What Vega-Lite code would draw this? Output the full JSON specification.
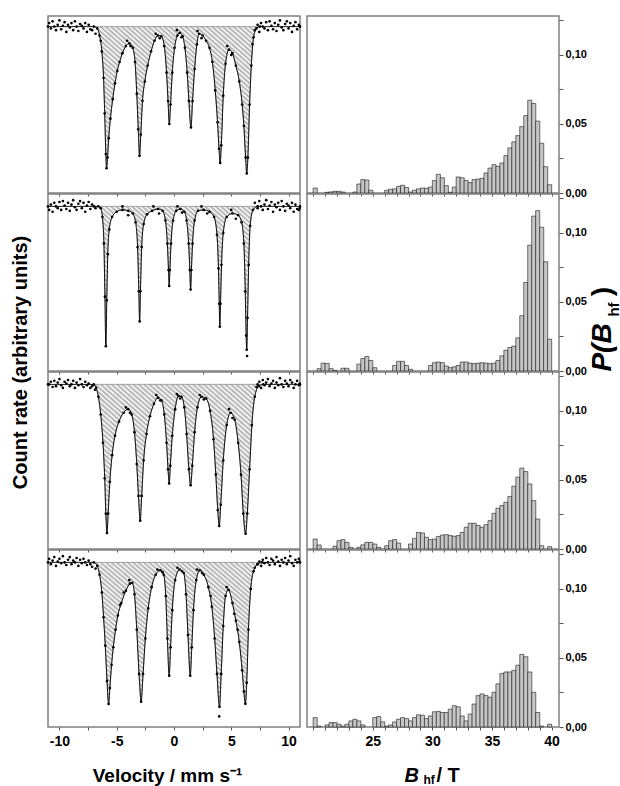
{
"$schema":"https://vega.github.io/schema/vega-lite/v6.json",
"padding":{"left":9,"top":15,"right":0,"bottom":0},
"background":"white",
"config":{
 "view":{"stroke":"#808080","strokeWidth":1.5},
 "font":"Liberation Sans",
 "axis":{"labelFont":"Liberation Sans","labelFontWeight":"bold","labelColor":"#000","titleFont":"Liberation Sans","titleFontWeight":"bold","titleColor":"#000","grid":false,"domain":false,"tickColor":"#555","tickWidth":1},
 "area":{"fill":{"gradient":"linear","x1":0,"y1":1,"x2":1,"y2":0,"stops":[
{"offset":0,"color":"#fff"},{"offset":0.008,"color":"#aaa"},{"offset":0.016,"color":"#fff"},{"offset":0.024,"color":"#aaa"},{"offset":0.032,"color":"#fff"},{"offset":0.04,"color":"#aaa"},{"offset":0.048,"color":"#fff"},{"offset":0.056,"color":"#aaa"},{"offset":0.064,"color":"#fff"},{"offset":0.072,"color":"#aaa"},{"offset":0.08,"color":"#fff"},{"offset":0.088,"color":"#aaa"},{"offset":0.096,"color":"#fff"},{"offset":0.104,"color":"#aaa"},{"offset":0.112,"color":"#fff"},{"offset":0.12,"color":"#aaa"},{"offset":0.128,"color":"#fff"},{"offset":0.136,"color":"#aaa"},{"offset":0.144,"color":"#fff"},{"offset":0.152,"color":"#aaa"},{"offset":0.16,"color":"#fff"},{"offset":0.168,"color":"#aaa"},{"offset":0.176,"color":"#fff"},{"offset":0.184,"color":"#aaa"},{"offset":0.192,"color":"#fff"},{"offset":0.2,"color":"#aaa"},{"offset":0.208,"color":"#fff"},{"offset":0.216,"color":"#aaa"},{"offset":0.224,"color":"#fff"},{"offset":0.232,"color":"#aaa"},{"offset":0.24,"color":"#fff"},{"offset":0.248,"color":"#aaa"},{"offset":0.256,"color":"#fff"},{"offset":0.264,"color":"#aaa"},{"offset":0.272,"color":"#fff"},{"offset":0.28,"color":"#aaa"},{"offset":0.288,"color":"#fff"},{"offset":0.296,"color":"#aaa"},{"offset":0.304,"color":"#fff"},{"offset":0.312,"color":"#aaa"},{"offset":0.32,"color":"#fff"},{"offset":0.328,"color":"#aaa"},{"offset":0.336,"color":"#fff"},{"offset":0.344,"color":"#aaa"},{"offset":0.352,"color":"#fff"},{"offset":0.36,"color":"#aaa"},{"offset":0.368,"color":"#fff"},{"offset":0.376,"color":"#aaa"},{"offset":0.384,"color":"#fff"},{"offset":0.392,"color":"#aaa"},{"offset":0.4,"color":"#fff"},{"offset":0.408,"color":"#aaa"},{"offset":0.416,"color":"#fff"},{"offset":0.424,"color":"#aaa"},{"offset":0.432,"color":"#fff"},{"offset":0.44,"color":"#aaa"},{"offset":0.448,"color":"#fff"},{"offset":0.456,"color":"#aaa"},{"offset":0.464,"color":"#fff"},{"offset":0.472,"color":"#aaa"},{"offset":0.48,"color":"#fff"},{"offset":0.488,"color":"#aaa"},{"offset":0.496,"color":"#fff"},{"offset":0.504,"color":"#aaa"},{"offset":0.512,"color":"#fff"},{"offset":0.52,"color":"#aaa"},{"offset":0.528,"color":"#fff"},{"offset":0.536,"color":"#aaa"},{"offset":0.544,"color":"#fff"},{"offset":0.552,"color":"#aaa"},{"offset":0.56,"color":"#fff"},{"offset":0.568,"color":"#aaa"},{"offset":0.576,"color":"#fff"},{"offset":0.584,"color":"#aaa"},{"offset":0.592,"color":"#fff"},{"offset":0.6,"color":"#aaa"},{"offset":0.608,"color":"#fff"},{"offset":0.616,"color":"#aaa"},{"offset":0.624,"color":"#fff"},{"offset":0.632,"color":"#aaa"},{"offset":0.64,"color":"#fff"},{"offset":0.648,"color":"#aaa"},{"offset":0.656,"color":"#fff"},{"offset":0.664,"color":"#aaa"},{"offset":0.672,"color":"#fff"},{"offset":0.68,"color":"#aaa"},{"offset":0.688,"color":"#fff"},{"offset":0.696,"color":"#aaa"},{"offset":0.704,"color":"#fff"},{"offset":0.712,"color":"#aaa"},{"offset":0.72,"color":"#fff"},{"offset":0.728,"color":"#aaa"},{"offset":0.736,"color":"#fff"},{"offset":0.744,"color":"#aaa"},{"offset":0.752,"color":"#fff"},{"offset":0.76,"color":"#aaa"},{"offset":0.768,"color":"#fff"},{"offset":0.776,"color":"#aaa"},{"offset":0.784,"color":"#fff"},{"offset":0.792,"color":"#aaa"},{"offset":0.8,"color":"#fff"},{"offset":0.808,"color":"#aaa"},{"offset":0.816,"color":"#fff"},{"offset":0.824,"color":"#aaa"},{"offset":0.832,"color":"#fff"},{"offset":0.84,"color":"#aaa"},{"offset":0.848,"color":"#fff"},{"offset":0.856,"color":"#aaa"},{"offset":0.864,"color":"#fff"},{"offset":0.872,"color":"#aaa"},{"offset":0.88,"color":"#fff"},{"offset":0.888,"color":"#aaa"},{"offset":0.896,"color":"#fff"},{"offset":0.904,"color":"#aaa"},{"offset":0.912,"color":"#fff"},{"offset":0.92,"color":"#aaa"},{"offset":0.928,"color":"#fff"},{"offset":0.936,"color":"#aaa"},{"offset":0.944,"color":"#fff"},{"offset":0.952,"color":"#aaa"},{"offset":0.96,"color":"#fff"},{"offset":0.968,"color":"#aaa"},{"offset":0.976,"color":"#fff"},{"offset":0.984,"color":"#aaa"},{"offset":0.992,"color":"#fff"},{"offset":1,"color":"#aaa"}]}}
},
"datasets":{
"fit":[
{"s":"G","v":-11,"f":0.94},{"s":"G","v":-7,"f":0.94},{"s":"G","v":-6.7,"f":0.93},{"s":"G","v":-6.5,"f":0.89},{"s":"G","v":-6.3,"f":0.8},{"s":"G","v":-6.15,"f":0.65},{"s":"G","v":-6.05,"f":0.45},{"s":"G","v":-5.95,"f":0.22},{"s":"G","v":-5.89,"f":0.14},{"s":"G","v":-5.8,"f":0.2},{"s":"G","v":-5.7,"f":0.31},{"s":"G","v":-5.55,"f":0.42},{"s":"G","v":-5.35,"f":0.53},{"s":"G","v":-5.15,"f":0.62},{"s":"G","v":-4.95,"f":0.69},{"s":"G","v":-4.75,"f":0.74},{"s":"G","v":-4.5,"f":0.79},{"s":"G","v":-4.2,"f":0.83},{"s":"G","v":-3.9,"f":0.845},{"s":"G","v":-3.6,"f":0.82},{"s":"G","v":-3.4,"f":0.74},{"s":"G","v":-3.25,"f":0.56},{"s":"G","v":-3.12,"f":0.36},{"s":"G","v":-3.01,"f":0.21},{"s":"G","v":-2.9,"f":0.33},{"s":"G","v":-2.75,"f":0.52},{"s":"G","v":-2.55,"f":0.63},{"s":"G","v":-2.3,"f":0.72},{"s":"G","v":-2.0,"f":0.8},{"s":"G","v":-1.7,"f":0.86},{"s":"G","v":-1.4,"f":0.89},{"s":"G","v":-1.1,"f":0.885},{"s":"G","v":-0.85,"f":0.83},{"s":"G","v":-0.65,"f":0.68},{"s":"G","v":-0.52,"f":0.52},{"s":"G","v":-0.41,"f":0.39},{"s":"G","v":-0.3,"f":0.5},{"s":"G","v":-0.15,"f":0.68},{"s":"G","v":0.05,"f":0.82},{"s":"G","v":0.3,"f":0.89},{"s":"G","v":0.5,"f":0.905},{"s":"G","v":0.75,"f":0.885},{"s":"G","v":0.95,"f":0.82},{"s":"G","v":1.15,"f":0.68},{"s":"G","v":1.3,"f":0.52},{"s":"G","v":1.48,"f":0.37},{"s":"G","v":1.62,"f":0.52},{"s":"G","v":1.8,"f":0.7},{"s":"G","v":2.0,"f":0.84},{"s":"G","v":2.2,"f":0.9},{"s":"G","v":2.5,"f":0.89},{"s":"G","v":2.8,"f":0.86},{"s":"G","v":3.1,"f":0.82},{"s":"G","v":3.35,"f":0.74},{"s":"G","v":3.6,"f":0.58},{"s":"G","v":3.8,"f":0.4},{"s":"G","v":3.93,"f":0.25},{"s":"G","v":4.03,"f":0.17},{"s":"G","v":4.13,"f":0.27},{"s":"G","v":4.3,"f":0.55},{"s":"G","v":4.5,"f":0.73},{"s":"G","v":4.8,"f":0.81},{"s":"G","v":5.1,"f":0.79},{"s":"G","v":5.4,"f":0.72},{"s":"G","v":5.7,"f":0.63},{"s":"G","v":5.95,"f":0.5},{"s":"G","v":6.1,"f":0.38},{"s":"G","v":6.25,"f":0.2},{"s":"G","v":6.35,"f":0.11},{"s":"G","v":6.45,"f":0.2},{"s":"G","v":6.6,"f":0.5},{"s":"G","v":6.75,"f":0.72},{"s":"G","v":6.95,"f":0.88},{"s":"G","v":7.2,"f":0.93},{"s":"G","v":7.5,"f":0.94},{"s":"G","v":11,"f":0.94},
{"s":"G1","v":-11,"f":0.93},{"s":"G1","v":-7,"f":0.93},{"s":"G1","v":-6.6,"f":0.93},{"s":"G1","v":-6.4,"f":0.92},{"s":"G1","v":-6.25,"f":0.87},{"s":"G1","v":-6.12,"f":0.72},{"s":"G1","v":-6.03,"f":0.42},{"s":"G1","v":-5.95,"f":0.14},{"s":"G1","v":-5.87,"f":0.4},{"s":"G1","v":-5.78,"f":0.66},{"s":"G1","v":-5.65,"f":0.8},{"s":"G1","v":-5.4,"f":0.87},{"s":"G1","v":-5.0,"f":0.9},{"s":"G1","v":-4.5,"f":0.91},{"s":"G1","v":-4.0,"f":0.905},{"s":"G1","v":-3.6,"f":0.89},{"s":"G1","v":-3.35,"f":0.84},{"s":"G1","v":-3.18,"f":0.7},{"s":"G1","v":-3.07,"f":0.45},{"s":"G1","v":-3.0,"f":0.28},{"s":"G1","v":-2.93,"f":0.45},{"s":"G1","v":-2.82,"f":0.7},{"s":"G1","v":-2.65,"f":0.83},{"s":"G1","v":-2.35,"f":0.885},{"s":"G1","v":-1.9,"f":0.905},{"s":"G1","v":-1.4,"f":0.915},{"s":"G1","v":-1.0,"f":0.905},{"s":"G1","v":-0.75,"f":0.85},{"s":"G1","v":-0.58,"f":0.72},{"s":"G1","v":-0.48,"f":0.57},{"s":"G1","v":-0.42,"f":0.48},{"s":"G1","v":-0.36,"f":0.57},{"s":"G1","v":-0.26,"f":0.72},{"s":"G1","v":-0.08,"f":0.85},{"s":"G1","v":0.2,"f":0.905},{"s":"G1","v":0.55,"f":0.915},{"s":"G1","v":0.9,"f":0.9},{"s":"G1","v":1.1,"f":0.85},{"s":"G1","v":1.28,"f":0.72},{"s":"G1","v":1.38,"f":0.57},{"s":"G1","v":1.45,"f":0.46},{"s":"G1","v":1.52,"f":0.57},{"s":"G1","v":1.62,"f":0.72},{"s":"G1","v":1.8,"f":0.85},{"s":"G1","v":2.1,"f":0.905},{"s":"G1","v":2.6,"f":0.91},{"s":"G1","v":3.1,"f":0.9},{"s":"G1","v":3.5,"f":0.87},{"s":"G1","v":3.75,"f":0.77},{"s":"G1","v":3.88,"f":0.58},{"s":"G1","v":3.95,"f":0.38},{"s":"G1","v":4.0,"f":0.25},{"s":"G1","v":4.06,"f":0.38},{"s":"G1","v":4.15,"f":0.6},{"s":"G1","v":4.3,"f":0.78},{"s":"G1","v":4.6,"f":0.87},{"s":"G1","v":5.1,"f":0.89},{"s":"G1","v":5.6,"f":0.88},{"s":"G1","v":5.9,"f":0.84},{"s":"G1","v":6.1,"f":0.72},{"s":"G1","v":6.22,"f":0.45},{"s":"G1","v":6.3,"f":0.2},{"s":"G1","v":6.35,"f":0.12},{"s":"G1","v":6.42,"f":0.3},{"s":"G1","v":6.52,"f":0.6},{"s":"G1","v":6.65,"f":0.82},{"s":"G1","v":6.9,"f":0.91},{"s":"G1","v":7.3,"f":0.93},{"s":"G1","v":11,"f":0.93},
{"s":"R4","v":-11,"f":0.93},{"s":"R4","v":-7.0,"f":0.93},{"s":"R4","v":-6.8,"f":0.91},{"s":"R4","v":-6.6,"f":0.86},{"s":"R4","v":-6.4,"f":0.76},{"s":"R4","v":-6.2,"f":0.6},{"s":"R4","v":-6.05,"f":0.4},{"s":"R4","v":-5.95,"f":0.2},{"s":"R4","v":-5.85,"f":0.09},{"s":"R4","v":-5.75,"f":0.2},{"s":"R4","v":-5.6,"f":0.38},{"s":"R4","v":-5.4,"f":0.53},{"s":"R4","v":-5.15,"f":0.64},{"s":"R4","v":-4.8,"f":0.72},{"s":"R4","v":-4.4,"f":0.77},{"s":"R4","v":-4.0,"f":0.79},{"s":"R4","v":-3.7,"f":0.76},{"s":"R4","v":-3.45,"f":0.66},{"s":"R4","v":-3.25,"f":0.48},{"s":"R4","v":-3.1,"f":0.3},{"s":"R4","v":-2.95,"f":0.16},{"s":"R4","v":-2.82,"f":0.3},{"s":"R4","v":-2.65,"f":0.5},{"s":"R4","v":-2.4,"f":0.65},{"s":"R4","v":-2.1,"f":0.75},{"s":"R4","v":-1.75,"f":0.82},{"s":"R4","v":-1.4,"f":0.855},{"s":"R4","v":-1.1,"f":0.84},{"s":"R4","v":-0.85,"f":0.76},{"s":"R4","v":-0.65,"f":0.6},{"s":"R4","v":-0.52,"f":0.45},{"s":"R4","v":-0.42,"f":0.37},{"s":"R4","v":-0.32,"f":0.47},{"s":"R4","v":-0.15,"f":0.64},{"s":"R4","v":0.1,"f":0.79},{"s":"R4","v":0.4,"f":0.865},{"s":"R4","v":0.65,"f":0.86},{"s":"R4","v":0.9,"f":0.8},{"s":"R4","v":1.1,"f":0.65},{"s":"R4","v":1.3,"f":0.45},{"s":"R4","v":1.45,"f":0.36},{"s":"R4","v":1.6,"f":0.47},{"s":"R4","v":1.8,"f":0.66},{"s":"R4","v":2.05,"f":0.8},{"s":"R4","v":2.4,"f":0.86},{"s":"R4","v":2.8,"f":0.85},{"s":"R4","v":3.15,"f":0.78},{"s":"R4","v":3.45,"f":0.62},{"s":"R4","v":3.65,"f":0.42},{"s":"R4","v":3.82,"f":0.22},{"s":"R4","v":3.95,"f":0.13},{"s":"R4","v":4.08,"f":0.25},{"s":"R4","v":4.3,"f":0.5},{"s":"R4","v":4.6,"f":0.7},{"s":"R4","v":4.95,"f":0.77},{"s":"R4","v":5.3,"f":0.73},{"s":"R4","v":5.6,"f":0.6},{"s":"R4","v":5.85,"f":0.42},{"s":"R4","v":6.05,"f":0.2},{"s":"R4","v":6.25,"f":0.086},{"s":"R4","v":6.4,"f":0.2},{"s":"R4","v":6.6,"f":0.45},{"s":"R4","v":6.8,"f":0.7},{"s":"R4","v":7.05,"f":0.86},{"s":"R4","v":7.4,"f":0.92},{"s":"R4","v":7.8,"f":0.93},{"s":"R4","v":11,"f":0.93},
{"s":"R6","v":-11,"f":0.93},{"s":"R6","v":-7.0,"f":0.93},{"s":"R6","v":-6.7,"f":0.91},{"s":"R6","v":-6.5,"f":0.86},{"s":"R6","v":-6.3,"f":0.76},{"s":"R6","v":-6.15,"f":0.62},{"s":"R6","v":-6.0,"f":0.46},{"s":"R6","v":-5.85,"f":0.26},{"s":"R6","v":-5.71,"f":0.13},{"s":"R6","v":-5.6,"f":0.22},{"s":"R6","v":-5.45,"f":0.35},{"s":"R6","v":-5.3,"f":0.45},{"s":"R6","v":-5.1,"f":0.55},{"s":"R6","v":-4.9,"f":0.63},{"s":"R6","v":-4.6,"f":0.7},{"s":"R6","v":-4.2,"f":0.77},{"s":"R6","v":-3.85,"f":0.81},{"s":"R6","v":-3.65,"f":0.815},{"s":"R6","v":-3.45,"f":0.75},{"s":"R6","v":-3.25,"f":0.55},{"s":"R6","v":-3.05,"f":0.3},{"s":"R6","v":-2.87,"f":0.143},{"s":"R6","v":-2.7,"f":0.3},{"s":"R6","v":-2.5,"f":0.5},{"s":"R6","v":-2.25,"f":0.67},{"s":"R6","v":-1.95,"f":0.79},{"s":"R6","v":-1.6,"f":0.86},{"s":"R6","v":-1.2,"f":0.885},{"s":"R6","v":-0.9,"f":0.86},{"s":"R6","v":-0.72,"f":0.74},{"s":"R6","v":-0.58,"f":0.5},{"s":"R6","v":-0.42,"f":0.29},{"s":"R6","v":-0.3,"f":0.45},{"s":"R6","v":-0.15,"f":0.66},{"s":"R6","v":0.1,"f":0.83},{"s":"R6","v":0.5,"f":0.89},{"s":"R6","v":0.85,"f":0.87},{"s":"R6","v":1.05,"f":0.75},{"s":"R6","v":1.22,"f":0.52},{"s":"R6","v":1.42,"f":0.29},{"s":"R6","v":1.55,"f":0.45},{"s":"R6","v":1.7,"f":0.66},{"s":"R6","v":1.95,"f":0.83},{"s":"R6","v":2.25,"f":0.885},{"s":"R6","v":2.6,"f":0.86},{"s":"R6","v":3.0,"f":0.79},{"s":"R6","v":3.3,"f":0.68},{"s":"R6","v":3.55,"f":0.5},{"s":"R6","v":3.75,"f":0.3},{"s":"R6","v":3.97,"f":0.114},{"s":"R6","v":4.12,"f":0.3},{"s":"R6","v":4.3,"f":0.57},{"s":"R6","v":4.5,"f":0.74},{"s":"R6","v":4.75,"f":0.775},{"s":"R6","v":5.1,"f":0.7},{"s":"R6","v":5.4,"f":0.6},{"s":"R6","v":5.7,"f":0.48},{"s":"R6","v":5.95,"f":0.32},{"s":"R6","v":6.1,"f":0.2},{"s":"R6","v":6.23,"f":0.131},{"s":"R6","v":6.35,"f":0.25},{"s":"R6","v":6.5,"f":0.55},{"s":"R6","v":6.7,"f":0.78},{"s":"R6","v":6.95,"f":0.88},{"s":"R6","v":7.3,"f":0.92},{"s":"R6","v":7.7,"f":0.93},{"s":"R6","v":11,"f":0.93}
],
"pts":[
{"s":"G","v":-10.9,"f":0.96},{"s":"G","v":-10.75,"f":0.93},{"s":"G","v":-10.6,"f":0.97},{"s":"G","v":-10.45,"f":0.94},{"s":"G","v":-10.3,"f":0.92},{"s":"G","v":-10.15,"f":0.95},{"s":"G","v":-10.0,"f":0.975},{"s":"G","v":-9.85,"f":0.925},{"s":"G","v":-9.7,"f":0.945},{"s":"G","v":-9.55,"f":0.965},{"s":"G","v":-9.4,"f":0.91},{"s":"G","v":-9.25,"f":0.95},{"s":"G","v":-9.1,"f":0.935},{"s":"G","v":-8.95,"f":0.96},{"s":"G","v":-8.8,"f":0.92},{"s":"G","v":-8.65,"f":0.97},{"s":"G","v":-8.5,"f":0.94},{"s":"G","v":-8.35,"f":0.915},{"s":"G","v":-8.2,"f":0.955},{"s":"G","v":-8.05,"f":0.945},{"s":"G","v":-7.9,"f":0.93},{"s":"G","v":-7.75,"f":0.96},{"s":"G","v":-7.6,"f":0.91},{"s":"G","v":-7.45,"f":0.95},{"s":"G","v":-7.3,"f":0.925},{"s":"G","v":-7.15,"f":0.92},{"s":"G","v":-6.85,"f":0.9},
{"s":"G","v":7.05,"f":0.92},{"s":"G","v":7.3,"f":0.95},{"s":"G","v":7.45,"f":0.91},{"s":"G","v":7.6,"f":0.96},{"s":"G","v":7.75,"f":0.94},{"s":"G","v":7.9,"f":0.93},{"s":"G","v":8.05,"f":0.965},{"s":"G","v":8.2,"f":0.92},{"s":"G","v":8.35,"f":0.97},{"s":"G","v":8.5,"f":0.945},{"s":"G","v":8.65,"f":0.925},{"s":"G","v":8.8,"f":0.96},{"s":"G","v":8.95,"f":0.915},{"s":"G","v":9.1,"f":0.95},{"s":"G","v":9.25,"f":0.975},{"s":"G","v":9.4,"f":0.935},{"s":"G","v":9.55,"f":0.92},{"s":"G","v":9.7,"f":0.955},{"s":"G","v":9.85,"f":0.97},{"s":"G","v":10.0,"f":0.93},{"s":"G","v":10.15,"f":0.96},{"s":"G","v":10.3,"f":0.91},{"s":"G","v":10.45,"f":0.945},{"s":"G","v":10.6,"f":0.965},{"s":"G","v":10.75,"f":0.925},{"s":"G","v":10.9,"f":0.95},{"s":"G","v":10.97,"f":0.94},
{"s":"G","v":-4.1,"f":0.86},{"s":"G","v":-3.8,"f":0.83},{"s":"G","v":-1.6,"f":0.9},{"s":"G","v":-1.25,"f":0.875},{"s":"G","v":0.25,"f":0.92},{"s":"G","v":0.65,"f":0.88},{"s":"G","v":2.05,"f":0.915},{"s":"G","v":2.4,"f":0.875},{"s":"G","v":4.65,"f":0.83},{"s":"G","v":5.0,"f":0.78},{"s":"G","v":-6.4,"f":0.86},{"s":"G","v":6.85,"f":0.84},
{"s":"G1","v":-10.9,"f":0.91},{"s":"G1","v":-10.75,"f":0.94},{"s":"G1","v":-10.6,"f":0.9},{"s":"G1","v":-10.45,"f":0.95},{"s":"G1","v":-10.3,"f":0.93},{"s":"G1","v":-10.15,"f":0.92},{"s":"G1","v":-10.0,"f":0.955},{"s":"G1","v":-9.85,"f":0.91},{"s":"G1","v":-9.7,"f":0.96},{"s":"G1","v":-9.55,"f":0.935},{"s":"G1","v":-9.4,"f":0.915},{"s":"G1","v":-9.25,"f":0.95},{"s":"G1","v":-9.1,"f":0.905},{"s":"G1","v":-8.95,"f":0.94},{"s":"G1","v":-8.8,"f":0.965},{"s":"G1","v":-8.65,"f":0.925},{"s":"G1","v":-8.5,"f":0.91},{"s":"G1","v":-8.35,"f":0.945},{"s":"G1","v":-8.2,"f":0.96},{"s":"G1","v":-8.05,"f":0.92},{"s":"G1","v":-7.9,"f":0.95},{"s":"G1","v":-7.75,"f":0.9},{"s":"G1","v":-7.6,"f":0.935},{"s":"G1","v":-7.45,"f":0.955},{"s":"G1","v":-7.3,"f":0.915},{"s":"G1","v":-7.15,"f":0.94},{"s":"G1","v":-6.85,"f":0.92},
{"s":"G1","v":7.05,"f":0.95},{"s":"G1","v":7.3,"f":0.92},{"s":"G1","v":7.45,"f":0.96},{"s":"G1","v":7.6,"f":0.93},{"s":"G1","v":7.75,"f":0.91},{"s":"G1","v":7.9,"f":0.94},{"s":"G1","v":8.05,"f":0.965},{"s":"G1","v":8.2,"f":0.915},{"s":"G1","v":8.35,"f":0.935},{"s":"G1","v":8.5,"f":0.955},{"s":"G1","v":8.65,"f":0.9},{"s":"G1","v":8.8,"f":0.94},{"s":"G1","v":8.95,"f":0.925},{"s":"G1","v":9.1,"f":0.95},{"s":"G1","v":9.25,"f":0.91},{"s":"G1","v":9.4,"f":0.96},{"s":"G1","v":9.55,"f":0.93},{"s":"G1","v":9.7,"f":0.905},{"s":"G1","v":9.85,"f":0.945},{"s":"G1","v":10.0,"f":0.935},{"s":"G1","v":10.15,"f":0.92},{"s":"G1","v":10.3,"f":0.95},{"s":"G1","v":10.45,"f":0.9},{"s":"G1","v":10.6,"f":0.94},{"s":"G1","v":10.75,"f":0.915},{"s":"G1","v":10.9,"f":0.91},{"s":"G1","v":10.97,"f":0.92},
{"s":"G1","v":-4.5,"f":0.93},{"s":"G1","v":-4.0,"f":0.88},{"s":"G1","v":-1.8,"f":0.93},{"s":"G1","v":-1.3,"f":0.89},{"s":"G1","v":0.3,"f":0.93},{"s":"G1","v":0.7,"f":0.895},{"s":"G1","v":2.4,"f":0.93},{"s":"G1","v":2.9,"f":0.89},{"s":"G1","v":5.0,"f":0.91},{"s":"G1","v":5.4,"f":0.86},{"s":"G1","v":6.38,"f":0.085},
{"s":"R4","v":-10.9,"f":0.93},{"s":"R4","v":-10.75,"f":0.945},{"s":"R4","v":-10.6,"f":0.915},{"s":"R4","v":-10.45,"f":0.95},{"s":"R4","v":-10.3,"f":0.92},{"s":"R4","v":-10.15,"f":0.94},{"s":"R4","v":-10.0,"f":0.96},{"s":"R4","v":-9.85,"f":0.925},{"s":"R4","v":-9.7,"f":0.91},{"s":"R4","v":-9.55,"f":0.945},{"s":"R4","v":-9.4,"f":0.935},{"s":"R4","v":-9.25,"f":0.955},{"s":"R4","v":-9.1,"f":0.92},{"s":"R4","v":-8.95,"f":0.93},{"s":"R4","v":-8.8,"f":0.95},{"s":"R4","v":-8.65,"f":0.91},{"s":"R4","v":-8.5,"f":0.94},{"s":"R4","v":-8.35,"f":0.925},{"s":"R4","v":-8.2,"f":0.96},{"s":"R4","v":-8.05,"f":0.93},{"s":"R4","v":-7.9,"f":0.915},{"s":"R4","v":-7.75,"f":0.945},{"s":"R4","v":-7.6,"f":0.925},{"s":"R4","v":-7.45,"f":0.935},{"s":"R4","v":-7.3,"f":0.91},{"s":"R4","v":-7.15,"f":0.92},{"s":"R4","v":-6.9,"f":0.9},
{"s":"R4","v":7.2,"f":0.915},{"s":"R4","v":7.3,"f":0.93},{"s":"R4","v":7.45,"f":0.945},{"s":"R4","v":7.6,"f":0.91},{"s":"R4","v":7.75,"f":0.955},{"s":"R4","v":7.9,"f":0.925},{"s":"R4","v":8.05,"f":0.94},{"s":"R4","v":8.2,"f":0.96},{"s":"R4","v":8.35,"f":0.92},{"s":"R4","v":8.5,"f":0.935},{"s":"R4","v":8.65,"f":0.95},{"s":"R4","v":8.8,"f":0.91},{"s":"R4","v":8.95,"f":0.94},{"s":"R4","v":9.1,"f":0.925},{"s":"R4","v":9.25,"f":0.965},{"s":"R4","v":9.4,"f":0.93},{"s":"R4","v":9.55,"f":0.915},{"s":"R4","v":9.7,"f":0.95},{"s":"R4","v":9.85,"f":0.935},{"s":"R4","v":10.0,"f":0.92},{"s":"R4","v":10.15,"f":0.955},{"s":"R4","v":10.3,"f":0.94},{"s":"R4","v":10.45,"f":0.91},{"s":"R4","v":10.6,"f":0.93},{"s":"R4","v":10.75,"f":0.95},{"s":"R4","v":10.9,"f":0.925},{"s":"R4","v":10.97,"f":0.935},
{"s":"R4","v":-4.2,"f":0.8},{"s":"R4","v":-3.85,"f":0.77},{"s":"R4","v":-1.55,"f":0.87},{"s":"R4","v":-1.2,"f":0.84},{"s":"R4","v":0.25,"f":0.875},{"s":"R4","v":0.55,"f":0.85},{"s":"R4","v":2.25,"f":0.87},{"s":"R4","v":2.6,"f":0.845},{"s":"R4","v":4.8,"f":0.79},{"s":"R4","v":5.1,"f":0.74},
{"s":"R6","v":-10.9,"f":0.95},{"s":"R6","v":-10.75,"f":0.92},{"s":"R6","v":-10.6,"f":0.94},{"s":"R6","v":-10.45,"f":0.96},{"s":"R6","v":-10.3,"f":0.91},{"s":"R6","v":-10.15,"f":0.935},{"s":"R6","v":-10.0,"f":0.95},{"s":"R6","v":-9.85,"f":0.925},{"s":"R6","v":-9.7,"f":0.965},{"s":"R6","v":-9.55,"f":0.93},{"s":"R6","v":-9.4,"f":0.915},{"s":"R6","v":-9.25,"f":0.945},{"s":"R6","v":-9.1,"f":0.96},{"s":"R6","v":-8.95,"f":0.92},{"s":"R6","v":-8.8,"f":0.94},{"s":"R6","v":-8.65,"f":0.93},{"s":"R6","v":-8.5,"f":0.955},{"s":"R6","v":-8.35,"f":0.91},{"s":"R6","v":-8.2,"f":0.945},{"s":"R6","v":-8.05,"f":0.925},{"s":"R6","v":-7.9,"f":0.95},{"s":"R6","v":-7.75,"f":0.93},{"s":"R6","v":-7.6,"f":0.915},{"s":"R6","v":-7.45,"f":0.94},{"s":"R6","v":-7.3,"f":0.92},{"s":"R6","v":-7.15,"f":0.905},{"s":"R6","v":-6.85,"f":0.895},
{"s":"R6","v":7.05,"f":0.9},{"s":"R6","v":7.3,"f":0.92},{"s":"R6","v":7.45,"f":0.935},{"s":"R6","v":7.6,"f":0.91},{"s":"R6","v":7.75,"f":0.945},{"s":"R6","v":7.9,"f":0.925},{"s":"R6","v":8.05,"f":0.955},{"s":"R6","v":8.2,"f":0.93},{"s":"R6","v":8.35,"f":0.915},{"s":"R6","v":8.5,"f":0.95},{"s":"R6","v":8.65,"f":0.94},{"s":"R6","v":8.8,"f":0.92},{"s":"R6","v":8.95,"f":0.96},{"s":"R6","v":9.1,"f":0.935},{"s":"R6","v":9.25,"f":0.91},{"s":"R6","v":9.4,"f":0.945},{"s":"R6","v":9.55,"f":0.93},{"s":"R6","v":9.7,"f":0.955},{"s":"R6","v":9.85,"f":0.92},{"s":"R6","v":10.0,"f":0.94},{"s":"R6","v":10.15,"f":0.965},{"s":"R6","v":10.3,"f":0.925},{"s":"R6","v":10.45,"f":0.91},{"s":"R6","v":10.6,"f":0.945},{"s":"R6","v":10.75,"f":0.93},{"s":"R6","v":10.9,"f":0.95},{"s":"R6","v":10.97,"f":0.935},
{"s":"R6","v":-4.4,"f":0.76},{"s":"R6","v":-4.7,"f":0.69},{"s":"R6","v":-3.9,"f":0.83},{"s":"R6","v":-1.45,"f":0.89},{"s":"R6","v":-1.0,"f":0.875},{"s":"R6","v":0.3,"f":0.9},{"s":"R6","v":0.7,"f":0.88},{"s":"R6","v":2.0,"f":0.89},{"s":"R6","v":2.45,"f":0.87},{"s":"R6","v":3.2,"f":0.74},{"s":"R6","v":4.6,"f":0.79},{"s":"R6","v":5.25,"f":0.64},{"s":"R6","v":5.55,"f":0.55},{"s":"R6","v":3.95,"f":0.06}
],
"hist":[
{"s":"G","b":20.167,"p":0.0036},{"s":"G","b":21.167,"p":0.0005},{"s":"G","b":21.5,"p":0.0008},{"s":"G","b":21.833,"p":0.0012},{"s":"G","b":22.167,"p":0.0012},{"s":"G","b":22.5,"p":0.0007},{"s":"G","b":23.5,"p":0.0007},{"s":"G","b":23.833,"p":0.0065},{"s":"G","b":24.167,"p":0.0097},{"s":"G","b":24.5,"p":0.0094},{"s":"G","b":24.833,"p":0.002},{"s":"G","b":26.167,"p":0.002},{"s":"G","b":26.5,"p":0.0027},{"s":"G","b":26.833,"p":0.003},{"s":"G","b":27.167,"p":0.0048},{"s":"G","b":27.5,"p":0.0056},{"s":"G","b":27.833,"p":0.004},{"s":"G","b":28.167,"p":0.0007},{"s":"G","b":28.5,"p":0.002},{"s":"G","b":28.833,"p":0.003},{"s":"G","b":29.167,"p":0.0036},{"s":"G","b":29.5,"p":0.0034},{"s":"G","b":29.833,"p":0.0043},{"s":"G","b":30.167,"p":0.009},{"s":"G","b":30.5,"p":0.0135},{"s":"G","b":30.833,"p":0.011},{"s":"G","b":31.167,"p":0.0053},{"s":"G","b":31.5,"p":0.0005},{"s":"G","b":31.833,"p":0.0043},{"s":"G","b":32.167,"p":0.0116},{"s":"G","b":32.5,"p":0.011},{"s":"G","b":32.833,"p":0.009},{"s":"G","b":33.167,"p":0.0075},{"s":"G","b":33.5,"p":0.0097},{"s":"G","b":33.833,"p":0.0101},{"s":"G","b":34.167,"p":0.0106},{"s":"G","b":34.5,"p":0.0145},{"s":"G","b":34.833,"p":0.018},{"s":"G","b":35.167,"p":0.0205},{"s":"G","b":35.5,"p":0.0193},{"s":"G","b":35.833,"p":0.0217},{"s":"G","b":36.167,"p":0.027},{"s":"G","b":36.5,"p":0.0326},{"s":"G","b":36.833,"p":0.037},{"s":"G","b":37.167,"p":0.0415},{"s":"G","b":37.5,"p":0.048},{"s":"G","b":37.833,"p":0.056},{"s":"G","b":38.167,"p":0.0671},{"s":"G","b":38.5,"p":0.0647},{"s":"G","b":38.833,"p":0.052},{"s":"G","b":39.167,"p":0.036},{"s":"G","b":39.5,"p":0.019},{"s":"G","b":39.833,"p":0.006},
{"s":"G1","b":20.5,"p":0.0017},{"s":"G1","b":20.833,"p":0.0057},{"s":"G1","b":21.167,"p":0.0055},{"s":"G1","b":21.5,"p":0.0017},{"s":"G1","b":21.833,"p":0.0005},{"s":"G1","b":22.5,"p":0.002},{"s":"G1","b":22.833,"p":0.002},{"s":"G1","b":23.833,"p":0.005},{"s":"G1","b":24.167,"p":0.009},{"s":"G1","b":24.5,"p":0.0105},{"s":"G1","b":24.833,"p":0.0076},{"s":"G1","b":25.167,"p":0.0024},{"s":"G1","b":26.833,"p":0.004},{"s":"G1","b":27.167,"p":0.007},{"s":"G1","b":27.5,"p":0.007},{"s":"G1","b":27.833,"p":0.004},{"s":"G1","b":28.167,"p":0.0012},{"s":"G1","b":29.833,"p":0.004},{"s":"G1","b":30.167,"p":0.006},{"s":"G1","b":30.5,"p":0.0065},{"s":"G1","b":30.833,"p":0.006},{"s":"G1","b":31.167,"p":0.0036},{"s":"G1","b":31.5,"p":0.0024},{"s":"G1","b":31.833,"p":0.003},{"s":"G1","b":32.167,"p":0.004},{"s":"G1","b":32.5,"p":0.0065},{"s":"G1","b":32.833,"p":0.0065},{"s":"G1","b":33.167,"p":0.0057},{"s":"G1","b":33.5,"p":0.0053},{"s":"G1","b":33.833,"p":0.0057},{"s":"G1","b":34.167,"p":0.006},{"s":"G1","b":34.5,"p":0.0057},{"s":"G1","b":34.833,"p":0.0053},{"s":"G1","b":35.167,"p":0.0057},{"s":"G1","b":35.5,"p":0.0076},{"s":"G1","b":35.833,"p":0.011},{"s":"G1","b":36.167,"p":0.015},{"s":"G1","b":36.5,"p":0.017},{"s":"G1","b":36.833,"p":0.018},{"s":"G1","b":37.167,"p":0.024},{"s":"G1","b":37.5,"p":0.04},{"s":"G1","b":37.833,"p":0.064},{"s":"G1","b":38.167,"p":0.091},{"s":"G1","b":38.5,"p":0.112},{"s":"G1","b":38.833,"p":0.116},{"s":"G1","b":39.167,"p":0.104},{"s":"G1","b":39.5,"p":0.079},{"s":"G1","b":39.833,"p":0.023},
{"s":"R4","b":20.167,"p":0.0072},{"s":"R4","b":20.5,"p":0.0029},{"s":"R4","b":21.833,"p":0.002},{"s":"R4","b":22.167,"p":0.006},{"s":"R4","b":22.5,"p":0.0068},{"s":"R4","b":22.833,"p":0.0048},{"s":"R4","b":23.167,"p":0.0012},{"s":"R4","b":23.833,"p":0.0012},{"s":"R4","b":24.167,"p":0.003},{"s":"R4","b":24.5,"p":0.0048},{"s":"R4","b":24.833,"p":0.0048},{"s":"R4","b":25.167,"p":0.0036},{"s":"R4","b":25.5,"p":0.0012},{"s":"R4","b":26.167,"p":0.0024},{"s":"R4","b":26.5,"p":0.006},{"s":"R4","b":26.833,"p":0.0068},{"s":"R4","b":27.167,"p":0.0043},{"s":"R4","b":28.167,"p":0.0036},{"s":"R4","b":28.5,"p":0.0077},{"s":"R4","b":28.833,"p":0.012},{"s":"R4","b":29.167,"p":0.0116},{"s":"R4","b":29.5,"p":0.0085},{"s":"R4","b":29.833,"p":0.0068},{"s":"R4","b":30.167,"p":0.0072},{"s":"R4","b":30.5,"p":0.009},{"s":"R4","b":30.833,"p":0.0101},{"s":"R4","b":31.167,"p":0.0104},{"s":"R4","b":31.5,"p":0.0097},{"s":"R4","b":31.833,"p":0.0092},{"s":"R4","b":32.167,"p":0.0097},{"s":"R4","b":32.5,"p":0.012},{"s":"R4","b":32.833,"p":0.0157},{"s":"R4","b":33.167,"p":0.0186},{"s":"R4","b":33.5,"p":0.0186},{"s":"R4","b":33.833,"p":0.017},{"s":"R4","b":34.167,"p":0.0157},{"s":"R4","b":34.5,"p":0.0176},{"s":"R4","b":34.833,"p":0.0205},{"s":"R4","b":35.167,"p":0.0258},{"s":"R4","b":35.5,"p":0.0295},{"s":"R4","b":35.833,"p":0.0314},{"s":"R4","b":36.167,"p":0.0338},{"s":"R4","b":36.5,"p":0.038},{"s":"R4","b":36.833,"p":0.0454},{"s":"R4","b":37.167,"p":0.052},{"s":"R4","b":37.5,"p":0.0585},{"s":"R4","b":37.833,"p":0.056},{"s":"R4","b":38.167,"p":0.047},{"s":"R4","b":38.5,"p":0.035},{"s":"R4","b":38.833,"p":0.0217},{"s":"R4","b":39.167,"p":0.0024},{"s":"R4","b":39.833,"p":0.0017},
{"s":"R6","b":20.167,"p":0.0068},{"s":"R6","b":20.5,"p":0.0007},{"s":"R6","b":21.167,"p":0.0015},{"s":"R6","b":21.5,"p":0.0032},{"s":"R6","b":21.833,"p":0.0032},{"s":"R6","b":22.167,"p":0.002},{"s":"R6","b":22.5,"p":0.0007},{"s":"R6","b":22.833,"p":0.002},{"s":"R6","b":23.167,"p":0.0044},{"s":"R6","b":23.5,"p":0.0056},{"s":"R6","b":23.833,"p":0.0044},{"s":"R6","b":24.167,"p":0.0015},{"s":"R6","b":25.167,"p":0.0068},{"s":"R6","b":25.5,"p":0.0076},{"s":"R6","b":25.833,"p":0.0037},{"s":"R6","b":26.167,"p":0.0007},{"s":"R6","b":26.5,"p":0.0015},{"s":"R6","b":26.833,"p":0.0037},{"s":"R6","b":27.167,"p":0.0056},{"s":"R6","b":27.5,"p":0.0068},{"s":"R6","b":27.833,"p":0.0061},{"s":"R6","b":28.167,"p":0.0044},{"s":"R6","b":28.5,"p":0.0068},{"s":"R6","b":28.833,"p":0.0088},{"s":"R6","b":29.167,"p":0.0085},{"s":"R6","b":29.5,"p":0.0061},{"s":"R6","b":29.833,"p":0.008},{"s":"R6","b":30.167,"p":0.011},{"s":"R6","b":30.5,"p":0.0112},{"s":"R6","b":30.833,"p":0.0105},{"s":"R6","b":31.167,"p":0.0105},{"s":"R6","b":31.5,"p":0.0129},{"s":"R6","b":31.833,"p":0.0154},{"s":"R6","b":32.167,"p":0.0146},{"s":"R6","b":32.5,"p":0.008},{"s":"R6","b":32.833,"p":0.0044},{"s":"R6","b":33.167,"p":0.0093},{"s":"R6","b":33.5,"p":0.0166},{"s":"R6","b":33.833,"p":0.0227},{"s":"R6","b":34.167,"p":0.0239},{"s":"R6","b":34.5,"p":0.0227},{"s":"R6","b":34.833,"p":0.0215},{"s":"R6","b":35.167,"p":0.0251},{"s":"R6","b":35.5,"p":0.0312},{"s":"R6","b":35.833,"p":0.0386},{"s":"R6","b":36.167,"p":0.0398},{"s":"R6","b":36.5,"p":0.0398},{"s":"R6","b":36.833,"p":0.041},{"s":"R6","b":37.167,"p":0.0447},{"s":"R6","b":37.5,"p":0.0525},{"s":"R6","b":37.833,"p":0.0508},{"s":"R6","b":38.167,"p":0.0398},{"s":"R6","b":38.5,"p":0.0251},{"s":"R6","b":38.833,"p":0.0105},{"s":"R6","b":39.167,"p":0.0007},{"s":"R6","b":39.833,"p":0.002}
]
},
"columns":2,
"spacing":{"row":1,"column":7},
"bounds":"flush",
"concat":[
{"width":252,"height":177,
 "encoding":{"x":{"field":"v","type":"quantitative","scale":{"domain":[-11,11],"nice":false,"zero":false},"axis":{"values":[-10,-7.5,-5,-2.5,0,2.5,5,7.5,10],"labels":false,"tickSize":3,"title":null}},
  "y":{"field":"f","type":"quantitative","scale":{"domain":[0,1],"nice":false},"axis":null}},
 "layer":[
  {"data":{"name":"fit"},"transform":[{"filter":"datum.s==='G' && datum.v>=-7 && datum.v<=7.5"}],"mark":{"type":"area","interpolate":"monotone","stroke":"#8a8a8a","strokeWidth":0.8},"encoding":{"y2":{"datum":0.94}}},
  {"data":{"name":"fit"},"transform":[{"filter":"datum.s==='G'"}],"mark":{"type":"line","interpolate":"monotone","color":"#000","strokeWidth":0.9},"encoding":{}},
  {"data":{"name":"fit"},"transform":[{"filter":"datum.s==='G'"}],"mark":{"type":"circle","color":"#000","size":7,"opacity":1},"encoding":{}},
  {"data":{"name":"pts"},"transform":[{"filter":"datum.s==='G'"}],"mark":{"type":"circle","color":"#000","size":7,"opacity":1},"encoding":{}}
 ]},
{"width":252,"height":177,
 "encoding":{"x":{"field":"b","type":"quantitative","scale":{"domain":[19.9,40.2],"nice":false,"zero":false},"axis":{"values":[20,21,22,23,24,25,26,27,28,29,30,31,32,33,34,35,36,37,38,39,40],"labels":false,"tickSize":3,"title":null}},
  "y":{"field":"p","type":"quantitative","scale":{"domain":[0,0.128],"nice":false},"axis":{"orient":"right","values":[0,0.025,0.05,0.075,0.1,0.125],"labelExpr":"abs(datum.value*20-round(datum.value*20))<0.001 ? replace(format(datum.value,'.2f'),'.',',') : ''","tickSize":4,"labelPadding":2,"labelFontSize":11,"title":")","titleFontSize":28,"titleAngle":270,"titleX":51,"titleY":275,"titleAlign":"center","titleBaseline":"alphabetic"}}},
 "layer":[
  {"data":{"name":"hist"},"transform":[{"filter":"datum.s==='G'"}],"mark":{"type":"bar","size":4.1,"fill":"#c6c6c6","stroke":"#1a1a1a","strokeWidth":0.6},"encoding":{}},
  {"data":{"values":[{"t":"G"}]},"mark":{"type":"text","fontSize":19,"fontWeight":"bold","align":"left","baseline":"alphabetic","color":"#000"},"encoding":{"x":{"datum":22.0},"y":{"datum":0.094},"text":{"field":"t"}}}
 ]},
{"width":252,"height":177,
 "encoding":{"x":{"field":"v","type":"quantitative","scale":{"domain":[-11,11],"nice":false,"zero":false},"axis":{"values":[-10,-7.5,-5,-2.5,0,2.5,5,7.5,10],"labels":false,"tickSize":3,"title":null}},
  "y":{"field":"f","type":"quantitative","scale":{"domain":[0,1],"nice":false},"axis":{"title":"Count rate (arbitrary units)","labels":false,"ticks":false,"titleFontSize":20,"titleAngle":270,"titleX":-22,"titleY":168,"titleAlign":"center","titleBaseline":"alphabetic"}}},
 "layer":[
  {"data":{"name":"fit"},"transform":[{"filter":"datum.s==='G1' && datum.v>=-7 && datum.v<=7.5"}],"mark":{"type":"area","interpolate":"monotone","stroke":"#8a8a8a","strokeWidth":0.8},"encoding":{"y2":{"datum":0.93}}},
  {"data":{"name":"fit"},"transform":[{"filter":"datum.s==='G1'"}],"mark":{"type":"line","interpolate":"monotone","color":"#000","strokeWidth":0.9},"encoding":{}},
  {"data":{"name":"fit"},"transform":[{"filter":"datum.s==='G1'"}],"mark":{"type":"circle","color":"#000","size":7,"opacity":1},"encoding":{}},
  {"data":{"name":"pts"},"transform":[{"filter":"datum.s==='G1'"}],"mark":{"type":"circle","color":"#000","size":7,"opacity":1},"encoding":{}}
 ]},
{"width":252,"height":177,
 "encoding":{"x":{"field":"b","type":"quantitative","scale":{"domain":[19.9,40.2],"nice":false,"zero":false},"axis":{"values":[20,21,22,23,24,25,26,27,28,29,30,31,32,33,34,35,36,37,38,39,40],"labels":false,"tickSize":3,"title":null}},
  "y":{"field":"p","type":"quantitative","scale":{"domain":[0,0.128],"nice":false},"axis":{"orient":"right","values":[0,0.025,0.05,0.075,0.1,0.125],"labelExpr":"abs(datum.value*20-round(datum.value*20))<0.001 ? replace(format(datum.value,'.2f'),'.',',') : ''","tickSize":4,"labelPadding":2,"labelFontSize":11,"title":"P(B","titleFontStyle":"italic","titleFontSize":28,"titleAngle":270,"titleX":51,"titleY":153,"titleAlign":"center","titleBaseline":"alphabetic"}}},
 "layer":[
  {"data":{"name":"hist"},"transform":[{"filter":"datum.s==='G1'"}],"mark":{"type":"bar","size":4.1,"fill":"#c6c6c6","stroke":"#1a1a1a","strokeWidth":0.6},"encoding":{}},
  {"data":{"values":[{"t":"G1"}]},"mark":{"type":"text","fontSize":19,"fontWeight":"bold","align":"left","baseline":"alphabetic","color":"#000"},"encoding":{"x":{"datum":21.6},"y":{"datum":0.089},"text":{"field":"t"}}}
 ]},
{"width":252,"height":177,
 "encoding":{"x":{"field":"v","type":"quantitative","scale":{"domain":[-11,11],"nice":false,"zero":false},"axis":{"values":[-10,-7.5,-5,-2.5,0,2.5,5,7.5,10],"labels":false,"tickSize":3,"title":null}},
  "y":{"field":"f","type":"quantitative","scale":{"domain":[0,1],"nice":false},"axis":null}},
 "layer":[
  {"data":{"name":"fit"},"transform":[{"filter":"datum.s==='R4' && datum.v>=-7 && datum.v<=7.8"}],"mark":{"type":"area","interpolate":"monotone","stroke":"#8a8a8a","strokeWidth":0.8},"encoding":{"y2":{"datum":0.93}}},
  {"data":{"name":"fit"},"transform":[{"filter":"datum.s==='R4'"}],"mark":{"type":"line","interpolate":"monotone","color":"#000","strokeWidth":0.9},"encoding":{}},
  {"data":{"name":"fit"},"transform":[{"filter":"datum.s==='R4'"}],"mark":{"type":"circle","color":"#000","size":7,"opacity":1},"encoding":{}},
  {"data":{"name":"pts"},"transform":[{"filter":"datum.s==='R4'"}],"mark":{"type":"circle","color":"#000","size":7,"opacity":1},"encoding":{}}
 ]},
{"width":252,"height":177,
 "encoding":{"x":{"field":"b","type":"quantitative","scale":{"domain":[19.9,40.2],"nice":false,"zero":false},"axis":{"values":[20,21,22,23,24,25,26,27,28,29,30,31,32,33,34,35,36,37,38,39,40],"labels":false,"tickSize":3,"title":"hf","titleFontSize":12,"titleX":116,"titleY":234,"titleAlign":"left","titleBaseline":"alphabetic"}},
  "y":{"field":"p","type":"quantitative","scale":{"domain":[0,0.128],"nice":false},"axis":{"orient":"right","values":[0,0.025,0.05,0.075,0.1,0.125],"labelExpr":"abs(datum.value*20-round(datum.value*20))<0.001 ? replace(format(datum.value,'.2f'),'.',',') : ''","tickSize":4,"labelPadding":2,"labelFontSize":11,"title":"hf","titleFontSize":15,"titleAngle":270,"titleX":59,"titleY":-63,"titleAlign":"center","titleBaseline":"alphabetic"}}},
 "layer":[
  {"data":{"name":"hist"},"transform":[{"filter":"datum.s==='R4'"}],"mark":{"type":"bar","size":4.1,"fill":"#c6c6c6","stroke":"#1a1a1a","strokeWidth":0.6},"encoding":{}},
  {"data":{"values":[{"t":"R4"}]},"mark":{"type":"text","fontSize":19,"fontWeight":"bold","align":"left","baseline":"alphabetic","color":"#000"},"encoding":{"x":{"datum":22.0},"y":{"datum":0.089},"text":{"field":"t"}}}
 ]},
{"width":252,"height":177,
 "encoding":{"x":{"field":"v","type":"quantitative","scale":{"domain":[-11,11],"nice":false,"zero":false},"axis":{"values":[-10,-7.5,-5,-2.5,0,2.5,5,7.5,10],"labelExpr":"datum.value % 5 === 0 ? '' + datum.value : ''","labelFontSize":14,"labelPadding":4,"tickSize":3,"title":"Velocity / mm s⁻¹","titleFontSize":19,"titleX":119,"titleY":54,"titleBaseline":"alphabetic"}},
  "y":{"field":"f","type":"quantitative","scale":{"domain":[0,1],"nice":false},"axis":null}},
 "layer":[
  {"data":{"name":"fit"},"transform":[{"filter":"datum.s==='R6' && datum.v>=-7 && datum.v<=7.7"}],"mark":{"type":"area","interpolate":"monotone","stroke":"#8a8a8a","strokeWidth":0.8},"encoding":{"y2":{"datum":0.93}}},
  {"data":{"name":"fit"},"transform":[{"filter":"datum.s==='R6'"}],"mark":{"type":"line","interpolate":"monotone","color":"#000","strokeWidth":0.9},"encoding":{}},
  {"data":{"name":"fit"},"transform":[{"filter":"datum.s==='R6'"}],"mark":{"type":"circle","color":"#000","size":7,"opacity":1},"encoding":{}},
  {"data":{"name":"pts"},"transform":[{"filter":"datum.s==='R6'"}],"mark":{"type":"circle","color":"#000","size":7,"opacity":1},"encoding":{}}
 ]},
{"width":252,"height":177,
 "encoding":{"x":{"field":"b","type":"quantitative","scale":{"domain":[19.9,40.2],"nice":false,"zero":false},"axis":{"values":[20,21,22,23,24,25,26,27,28,29,30,31,32,33,34,35,36,37,38,39,40],"labelExpr":"(datum.value % 5 === 0 && datum.value > 20) ? '' + datum.value : ''","labelFontSize":14,"labelPadding":4,"tickSize":3,"title":"/ T","titleFontSize":20,"titleX":129,"titleY":54,"titleAlign":"left","titleBaseline":"alphabetic"}},
  "y":{"field":"p","type":"quantitative","scale":{"domain":[0,0.128],"nice":false},"axis":{"orient":"right","values":[0,0.025,0.05,0.075,0.1,0.125],"labelExpr":"abs(datum.value*20-round(datum.value*20))<0.001 ? replace(format(datum.value,'.2f'),'.',',') : ''","tickSize":4,"labelPadding":2,"labelFontSize":11,"title":"B","titleFontStyle":"italic","titleFontSize":20,"titleAngle":0,"titleX":-155,"titleY":231,"titleAlign":"left","titleBaseline":"alphabetic"}}},
 "layer":[
  {"data":{"name":"hist"},"transform":[{"filter":"datum.s==='R6'"}],"mark":{"type":"bar","size":4.1,"fill":"#c6c6c6","stroke":"#1a1a1a","strokeWidth":0.6},"encoding":{}},
  {"data":{"values":[{"t":"R6"}]},"mark":{"type":"text","fontSize":19,"fontWeight":"bold","align":"left","baseline":"alphabetic","color":"#000"},"encoding":{"x":{"datum":22.1},"y":{"datum":0.0875},"text":{"field":"t"}}}
 ]}
]
}
